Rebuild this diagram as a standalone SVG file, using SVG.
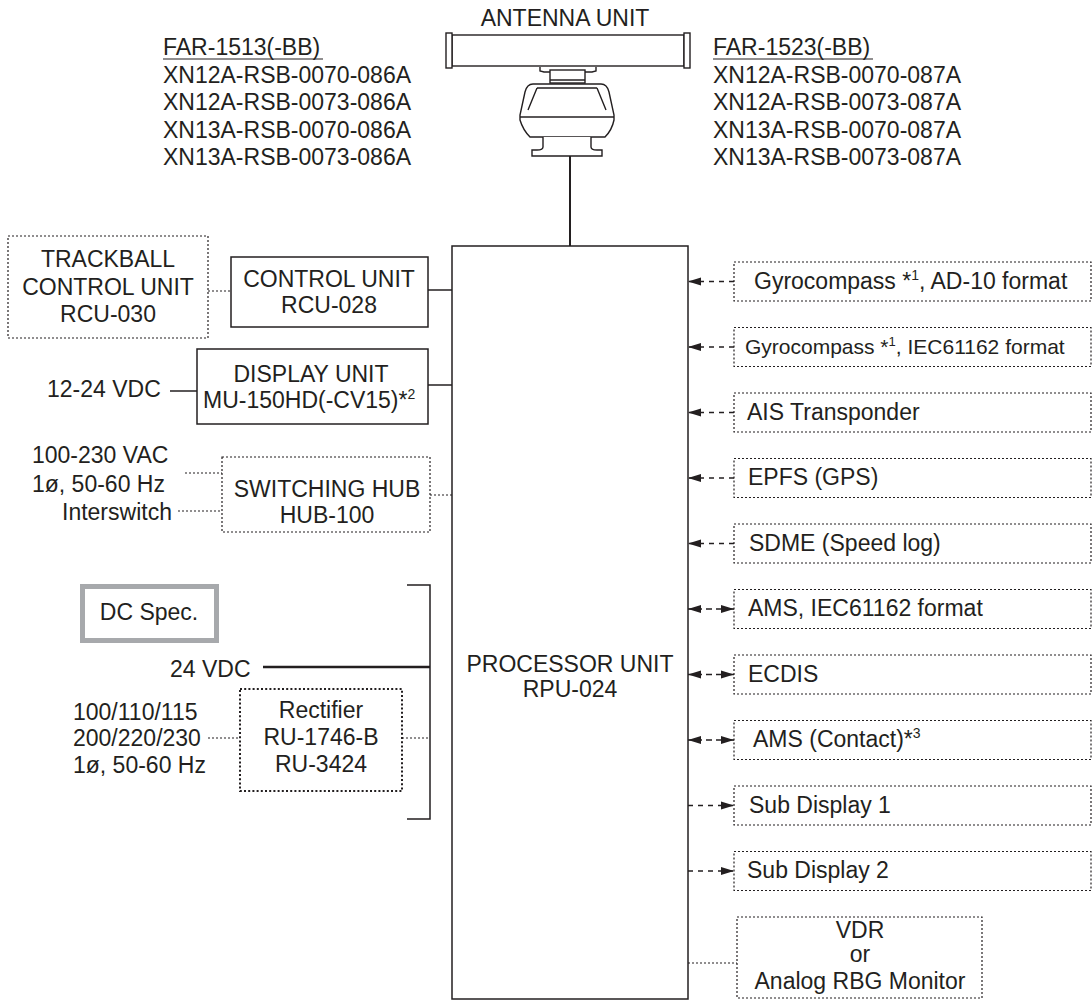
<svg xmlns="http://www.w3.org/2000/svg" width="1092" height="1000" viewBox="0 0 1092 1000">
<style>
text{font-family:"Liberation Sans",Arial,sans-serif;font-size:23px;fill:#231f20}
.m{text-anchor:middle}
.solid{fill:none;stroke:#231f20;stroke-width:1.5}
.dot{fill:none;stroke:#231f20;stroke-width:1.2;stroke-dasharray:2,2}
.dotb{fill:none;stroke:#231f20;stroke-width:2;stroke-dasharray:2,2.2}
.dash{fill:none;stroke:#231f20;stroke-width:1.4;stroke-dasharray:5,5}
.ant{fill:#fff;stroke:#231f20;stroke-width:1.4}
</style>
<defs>
<marker id="ah" markerUnits="userSpaceOnUse" markerWidth="13" markerHeight="9" refX="13" refY="4.5" orient="auto-start-reverse" viewBox="0 0 13 9">
<path d="M0,0.5 L13,4.5 L0,8.5 z" fill="#231f20"/>
</marker>
</defs>

<!-- Antenna -->
<g id="antenna">
<text class="m" x="565" y="26">ANTENNA UNIT</text>
<rect class="ant" x="452" y="35" width="232" height="31"/>
<rect class="ant" x="446" y="33" width="6" height="35"/>
<rect class="ant" x="684" y="33" width="6" height="35"/>
<path class="ant" d="M540,67 L540,71 L544,72 L592,72 L596,71 L596,67"/>
<rect class="ant" x="550" y="70" width="35" height="13"/>
<line class="ant" x1="550" y1="80" x2="585" y2="80"/>
<path class="ant" d="M533,84 Q527,84 525,92 L520,115 L520,120 Q523,130 530,137 L605,137 Q612,130 614,120 L614,115 L609,92 Q607,84 601,84 Z"/>
<path class="ant" d="M537,88 L528,110 M597,88 L606,110 M537,88 L597,88" />
<line class="ant" x1="520" y1="117" x2="614" y2="117"/>
<path class="ant" d="M543,137 L543,147 Q543,150 537,150 L532,150 L532,156 L602,156 L602,150 L597,150 Q591,150 591,147 L591,137"/>
</g>

<g id="model-left">
<text x="163" y="55">FAR-1513(-BB)</text>
<line x1="163" y1="59" x2="323" y2="59" stroke="#231f20" stroke-width="1.2"/>
<text x="163" y="83">XN12A-RSB-0070-086A</text>
<text x="163" y="110">XN12A-RSB-0073-086A</text>
<text x="163" y="138">XN13A-RSB-0070-086A</text>
<text x="163" y="165">XN13A-RSB-0073-086A</text>
</g>
<g id="model-right">
<text x="713" y="55">FAR-1523(-BB)</text>
<line x1="713" y1="59" x2="873" y2="59" stroke="#231f20" stroke-width="1.2"/>
<text x="713" y="83">XN12A-RSB-0070-087A</text>
<text x="713" y="110">XN12A-RSB-0073-087A</text>
<text x="713" y="138">XN13A-RSB-0070-087A</text>
<text x="713" y="165">XN13A-RSB-0073-087A</text>
</g>

<!-- Connectors -->
<g id="connectors">
<line x1="570" y1="156" x2="570" y2="246" stroke="#231f20" stroke-width="2"/>
<line class="dot" x1="208" y1="291" x2="231" y2="291"/>
<line class="solid" x1="428" y1="290" x2="452" y2="290"/>
<line class="solid" x1="170" y1="391" x2="197" y2="391"/>
<line class="solid" x1="428" y1="385" x2="452" y2="385"/>
<line class="dot" x1="185" y1="473" x2="222" y2="473"/>
<line class="dot" x1="178" y1="511" x2="222" y2="511"/>
<line class="dot" x1="430" y1="495" x2="452" y2="495"/>
<path class="solid" d="M407,585 L430,585 L430,819 L407,819"/>
<line x1="263" y1="667" x2="430" y2="667" stroke="#231f20" stroke-width="2.5"/>
<line class="dot" x1="208" y1="738" x2="240" y2="738"/>
<line class="dot" x1="402" y1="738" x2="430" y2="738"/>
<!-- inputs to processor -->
<line class="dash" x1="734" y1="281.5" x2="688" y2="281.5" marker-end="url(#ah)"/>
<line class="dash" x1="734" y1="347" x2="688" y2="347" marker-end="url(#ah)"/>
<line class="dash" x1="734" y1="412.5" x2="688" y2="412.5" marker-end="url(#ah)"/>
<line class="dash" x1="734" y1="478" x2="688" y2="478" marker-end="url(#ah)"/>
<line class="dash" x1="734" y1="543.5" x2="688" y2="543.5" marker-end="url(#ah)"/>
<!-- bidirectional -->
<line class="dash" style="stroke-dasharray:14,4,6,4,18" x1="688" y1="609" x2="734" y2="609" marker-start="url(#ah)" marker-end="url(#ah)"/>
<line class="dash" style="stroke-dasharray:14,4,6,4,18" x1="688" y1="674.5" x2="734" y2="674.5" marker-start="url(#ah)" marker-end="url(#ah)"/>
<line class="dash" style="stroke-dasharray:14,4,6,4,18" x1="688" y1="740" x2="734" y2="740" marker-start="url(#ah)" marker-end="url(#ah)"/>
<!-- outputs -->
<line class="dash" x1="688" y1="805.5" x2="734" y2="805.5" marker-end="url(#ah)"/>
<line class="dash" x1="688" y1="871" x2="734" y2="871" marker-end="url(#ah)"/>
<line class="dot" x1="688" y1="963" x2="737" y2="963"/>
</g>

<!-- Left nodes -->
<g id="trackball">
<rect class="dot" x="8" y="236" width="200" height="102"/>
<text class="m" x="108" y="267">TRACKBALL</text>
<text class="m" x="108" y="295">CONTROL UNIT</text>
<text class="m" x="108" y="322">RCU-030</text>
</g>
<g id="control-unit">
<rect class="solid" x="231" y="257" width="197" height="70"/>
<text class="m" x="329" y="287">CONTROL UNIT</text>
<text class="m" x="329" y="313">RCU-028</text>
</g>
<g id="display-unit">
<text x="47" y="397">12-24 VDC</text>
<rect class="solid" x="197" y="349" width="231" height="75"/>
<text class="m" x="311" y="382">DISPLAY UNIT</text>
<text x="203" y="408">MU-150HD(-CV15)*<tspan font-size="14" dy="-9">2</tspan></text>
</g>
<g id="switching-hub">
<text x="32" y="463">100-230 VAC</text>
<text x="32" y="492">1ø, 50-60 Hz</text>
<text x="62" y="520">Interswitch</text>
<rect class="dot" x="222" y="457" width="208" height="75"/>
<text class="m" x="327" y="497">SWITCHING HUB</text>
<text class="m" x="327" y="523">HUB-100</text>
</g>
<g id="dc-spec">
<rect x="82.5" y="586.5" width="134" height="54" fill="#fff" stroke="#a7a9ac" stroke-width="5"/>
<text class="m" x="149" y="620">DC Spec.</text>
</g>
<g id="power">
<text x="170" y="677">24 VDC</text>
<text x="73" y="720">100/110/115</text>
<text x="73" y="746">200/220/230</text>
<text x="73" y="773">1ø, 50-60 Hz</text>
</g>
<g id="rectifier">
<rect class="dotb" x="240" y="689" width="162" height="102"/>
<text class="m" x="321" y="718">Rectifier</text>
<text class="m" x="321" y="745">RU-1746-B</text>
<text class="m" x="321" y="772">RU-3424</text>
</g>

<g id="processor">
<rect class="solid" x="452" y="246" width="236" height="753"/>
<text class="m" x="570" y="672">PROCESSOR UNIT</text>
<text class="m" x="570" y="697">RPU-024</text>
</g>

<!-- Right nodes -->
<g id="gyro-ad10">
<rect class="dot" x="734" y="262" width="357" height="39"/>
<text x="754" y="289">Gyrocompass *<tspan font-size="14" dy="-9">1</tspan><tspan dy="9">, AD-10 format</tspan></text>
</g>
<g id="gyro-iec">
<rect class="dot" x="734" y="327.5" width="357" height="39"/>
<text x="745" y="354" style="font-size:21px">Gyrocompass *<tspan font-size="13" dy="-8">1</tspan><tspan dy="8">, IEC61162 format</tspan></text>
</g>
<g id="ais">
<rect class="dot" x="734" y="393" width="357" height="39"/>
<text x="747" y="420">AIS Transponder</text>
</g>
<g id="epfs">
<rect class="dot" x="734" y="458.5" width="357" height="39"/>
<text x="748" y="485">EPFS (GPS)</text>
</g>
<g id="sdme">
<rect class="dot" x="734" y="524" width="357" height="39"/>
<text x="749" y="551">SDME (Speed log)</text>
</g>
<g id="ams-iec">
<rect class="dot" x="734" y="589.5" width="357" height="39"/>
<text x="748" y="616">AMS, IEC61162 format</text>
</g>
<g id="ecdis">
<rect class="dot" x="734" y="655" width="357" height="39"/>
<text x="748" y="682">ECDIS</text>
</g>
<g id="ams-contact">
<rect class="dot" x="734" y="720.5" width="357" height="39"/>
<text x="753" y="747">AMS (Contact)*<tspan font-size="14" dy="-9">3</tspan></text>
</g>
<g id="sub-display-1">
<rect class="dot" x="734" y="786" width="357" height="39"/>
<text x="749" y="813">Sub Display 1</text>
</g>
<g id="sub-display-2">
<rect class="dot" x="734" y="851.5" width="357" height="39"/>
<text x="747" y="878">Sub Display 2</text>
</g>
<g id="vdr">
<rect class="dot" x="737" y="917" width="245" height="81"/>
<text class="m" x="860" y="938">VDR</text>
<text class="m" x="860" y="962">or</text>
<text class="m" x="860" y="989">Analog RBG Monitor</text>
</g>
</svg>
